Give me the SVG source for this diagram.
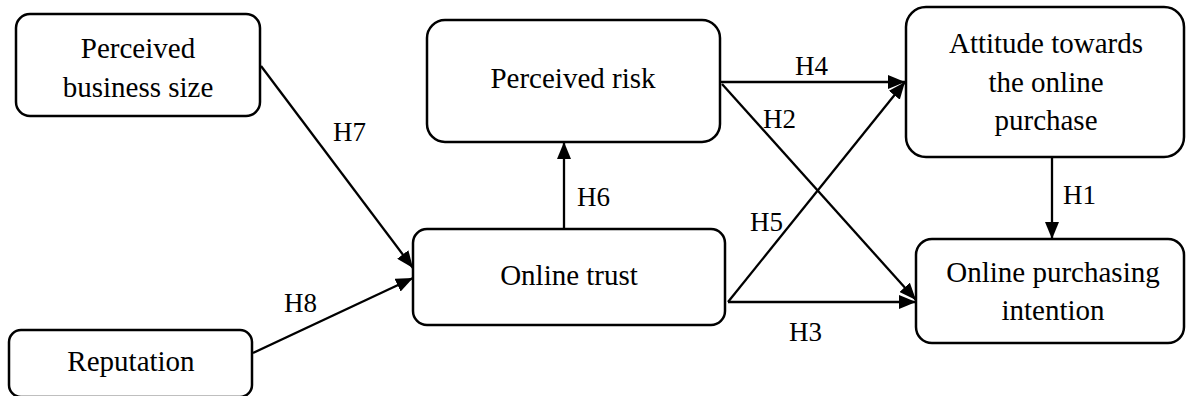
<svg xmlns="http://www.w3.org/2000/svg" width="1186" height="396" viewBox="0 0 1186 396">
<style>
.box{fill:#fff;stroke:#000;stroke-width:2.5}
.t{font-family:"Liberation Serif","Times New Roman",serif;font-size:29px;fill:#000;text-anchor:middle}
.l{font-family:"Liberation Serif","Times New Roman",serif;font-size:27px;fill:#000}
.c{stroke:#000;stroke-width:2.3;fill:none;marker-end:url(#ah)}
</style>
<defs>
<marker id="ah" markerUnits="userSpaceOnUse" markerWidth="18" markerHeight="14" refX="17" refY="7" orient="auto">
<path d="M0,0 L17,7 L0,14 Z" fill="#000"/>
</marker>
</defs>
<rect width="1186" height="396" fill="#fff"/>
<g id="connectors">
<line class="c" x1="261" y1="66" x2="413" y2="268"/>
<line class="c" x1="253" y1="353" x2="413" y2="278"/>
<line class="c" x1="564" y1="229" x2="564" y2="142"/>
<line class="c" x1="721" y1="82" x2="905" y2="82"/>
<line class="c" x1="722" y1="84" x2="916" y2="300"/>
<line class="c" x1="728" y1="302" x2="905" y2="82"/>
<line class="c" x1="728" y1="302" x2="916" y2="302"/>
<line class="c" x1="1052" y1="156" x2="1052" y2="239"/>
<text class="l" x="333" y="141">H7</text>
<text class="l" x="284" y="312">H8</text>
<text class="l" x="577" y="206">H6</text>
<text class="l" x="795" y="75">H4</text>
<text class="l" x="763" y="128">H2</text>
<text class="l" x="750" y="231">H5</text>
<text class="l" x="789" y="341">H3</text>
<text class="l" x="1063" y="204">H1</text>
</g>
<g id="node-business-size">
<rect class="box" x="16" y="14" width="244" height="102" rx="14"/>
<text class="t" x="138" y="58">Perceived</text>
<text class="t" x="138" y="97">business size</text>
</g>
<g id="node-reputation">
<rect class="box" x="9" y="330" width="243" height="67" rx="12"/>
<text class="t" x="131" y="371">Reputation</text>
</g>
<g id="node-perceived-risk">
<rect class="box" x="427" y="20" width="293" height="122" rx="18"/>
<text class="t" x="573" y="88">Perceived risk</text>
</g>
<g id="node-online-trust">
<rect class="box" x="413" y="229" width="312" height="96" rx="14"/>
<text class="t" x="569" y="285">Online trust</text>
</g>
<g id="node-attitude">
<rect class="box" x="906" y="7" width="278" height="150" rx="20"/>
<text class="t" x="1046" y="53">Attitude towards</text>
<text class="t" x="1046" y="92">the online</text>
<text class="t" x="1046" y="130">purchase</text>
</g>
<g id="node-intention">
<rect class="box" x="916" y="239" width="268" height="104" rx="16"/>
<text class="t" x="1053" y="282">Online purchasing</text>
<text class="t" x="1053" y="320">intention</text>
</g>
</svg>
